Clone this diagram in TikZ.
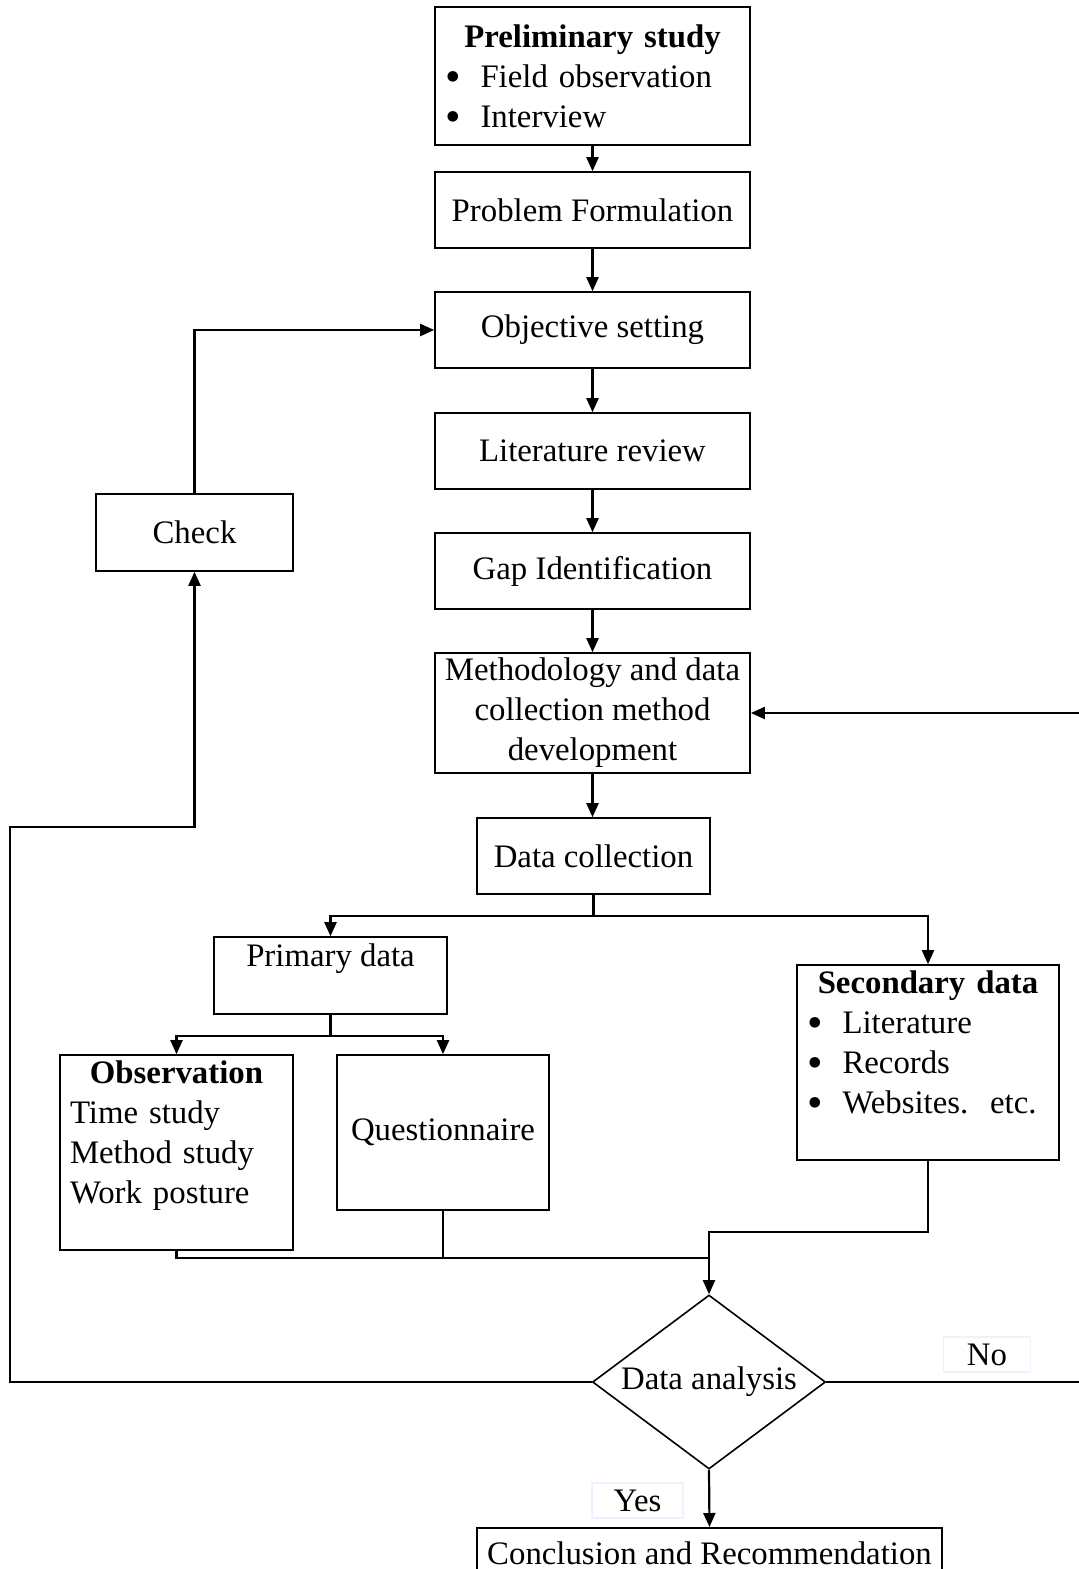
\documentclass[tikz,border=0pt]{standalone}
\usepackage{fontspec}
\setmainfont{Liberation Serif}
\usetikzlibrary{shapes.geometric,arrows.meta}
\tikzset{
  blk/.style={draw,line width=0.8pt,fill=white,inner xsep=5pt,inner ysep=0pt,align=center},
  arr/.style={line width=1.1pt,-{Triangle[length=7pt,width=6pt]}},
  lnk/.style={line width=1.1pt},
  tag/.style={draw=blue!6,line width=0.8pt,inner sep=0pt}
}
\newcommand{\itm}{\smash{\raisebox{-1.9pt}{\scalebox{1.35}{\textbullet}}}\hspace{10pt}}
\begin{document}
\begin{tikzpicture}[x=0.5pt,y=-0.5pt,font=\fontsize{16.4}{20}\selectfont]
\useasboundingbox (0,0) rectangle (1079,1569);
% main column
\node[blk,minimum width=157.5pt,minimum height=69pt,text width=147.5pt,align=left] (prelim) at (592.5,76)
  {\makebox[\linewidth]{\textbf{Preliminary study}}\\ \itm Field observation\\ \itm Interview};
\node[blk,minimum width=157.5pt,minimum height=38pt] (problem) at (592.5,210) {Problem Formulation};
\node[blk,minimum width=157.5pt,minimum height=38pt] (objective) at (592.5,330) {Objective setting};
\node[blk,minimum width=157.5pt,minimum height=38pt] (literature) at (592.5,451) {Literature review};
\node[blk,minimum width=157.5pt,minimum height=38pt] (gap) at (592.5,571) {Gap Identification};
\node[blk,minimum width=157.5pt,minimum height=60pt] (method) at (592.5,713) {Methodology and data\\collection method\\development};
\node[blk,minimum width=116.5pt,minimum height=38pt] (collect) at (593.5,856) {Data collection};
\node[blk,minimum width=98.5pt,minimum height=38.5pt] (check) at (194.5,532.5) {Check};
% data sources
\node[blk,minimum width=116.5pt,minimum height=38.5pt] (primary) at (330.5,975.5) {Primary data\\ \mbox{}};
\node[blk,minimum width=116.5pt,minimum height=97.5pt,text width=106.5pt,align=left] (observ) at (176.5,1152.5)
  {\makebox[\linewidth]{\textbf{Observation}}\\ Time study\\ Method study\\ Work posture\\ \mbox{}};
\node[blk,minimum width=106pt,minimum height=77.5pt] (quest) at (443,1132.5) {Questionnaire};
\node[blk,minimum width=131pt,minimum height=97.5pt,text width=121pt,align=left] (second) at (928,1062.5)
  {\makebox[\linewidth]{\textbf{Secondary data}}\\ \itm Literature\\ \itm Records\\ \itm Websites.\ \ etc.\\ \mbox{}};
\node[draw,diamond,aspect=1.34,line width=0.8pt,inner sep=0pt,minimum width=116.5pt,minimum height=87pt] (analysis) at (709,1382) {Data analysis};
\node[blk,anchor=north,minimum width=232.5pt,minimum height=25pt] (concl) at (709.5,1527) {Conclusion and Recommendation};
\node[tag,minimum width=43.5pt,minimum height=17.5pt] (no) at (987,1354.5) {No};
\node[tag,minimum width=45.5pt,minimum height=17.5pt] (yes) at (637.5,1500.5) {Yes};
% connectors
\foreach \a/\b in {prelim/problem,problem/objective,objective/literature,literature/gap,gap/method,method/collect}
  \draw[arr] (\a.south) -- (\a.south |- \b.north);
\coordinate (split1) at (593.5,916);
\coordinate (split2) at (330.5,1036);
\coordinate (join) at (709,1232);
\coordinate (merge) at (709,1258);
\coordinate (lft) at (10,827);
\coordinate (rgt) at (1086,713);
\draw[lnk] (collect.south) -- (split1);
\draw[arr] (split1) -| (primary.north);
\draw[arr] (split1) -| (second.north);
\draw[lnk] (primary.south) -- (split2);
\draw[arr] (split2) -| (observ.north);
\draw[arr] (split2) -| (quest.north);
\draw[arr] (second.south) |- (join) -- (analysis.north);
\draw[lnk] (observ.south) |- (merge);
\draw[lnk] (quest.south) -- (quest.south |- merge);
\draw[arr] (analysis.west) -| (lft) -| (check.south);
\draw[arr] (check.north) |- (objective.west);
\draw[arr] (analysis.east) -| (rgt) -- (method.east);
\draw[arr] (analysis.south) -- (concl.north);
\end{tikzpicture}
\end{document}
